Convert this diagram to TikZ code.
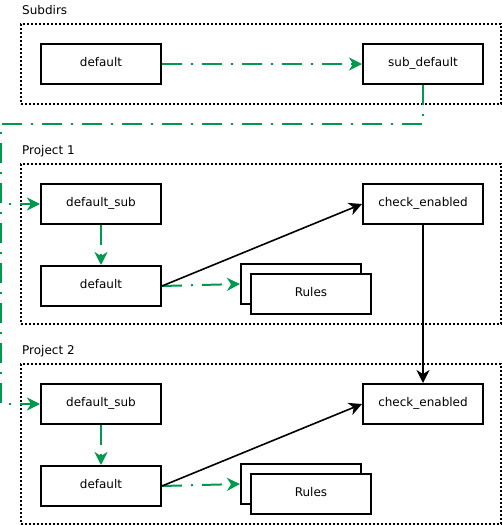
\documentclass[tikz,border=0pt]{standalone}
\usepackage{fontspec}
\setmainfont{DejaVu Sans}
\usetikzlibrary{arrows.meta,positioning}
\definecolor{sdGreen}{HTML}{00994D}
\newcommand{\txt}{\fontsize{12}{14}\selectfont}
\tikzset{
  box/.style={draw=black,line width=2pt,fill=white,minimum width=120pt,minimum height=40pt,
              inner sep=0pt,text height=9pt,text depth=3.5pt,font=\txt},
  grp/.style={draw=black,line width=2pt,dash pattern=on 2pt off 2pt,minimum width=480pt,inner sep=0pt},
  lbl/.style={font=\txt,inner sep=0pt,anchor=base west},
  garr/.style={draw=sdGreen,line width=2pt,dash pattern=on 20pt off 9pt on 2pt off 9pt,
               -{Stealth[length=13pt,width=13pt,inset=4pt,fill=sdGreen]}},
  karr/.style={draw=black,line width=1.6pt,-{Stealth[length=13pt,width=13pt,inset=4pt]}},
}

\begin{document}
\begin{tikzpicture}[x=1pt,y=-1pt]
  \useasboundingbox (0,0) rectangle (502,525);
  % groups
  \node[grp,minimum height=80pt] (gSub) at (261,64) {};
  \node[grp,minimum height=160pt] (gOne) at (261,244) {};
  \node[grp,minimum height=160pt] (gTwo) at (261,444) {};
  \node[lbl] (tSub) at (22,14) {Subdirs};
  \node[lbl] (tOne) at (22,154) {Project 1};
  \node[lbl] (tTwo) at (22,354) {Project 2};
  % subdirs
  \node[box] (sDef) at (101,64) {default};
  \node[box,right=200pt of sDef] (sSub) {sub\_default};
  % project 1
  \node[box] (aSub) at (101,204) {default\_sub};
  \node[box,below=40pt of aSub] (aDef) {default};
  \node[box,right=200pt of aSub] (aChk) {check\_enabled};
  \node[box] (aRulB) at (301,284) {};
  \node[box] (aRulF) at (311,294) {Rules};
  % project 2
  \node[box] (bSub) at (101,404) {default\_sub};
  \node[box,below=40pt of bSub] (bDef) {default};
  \node[box,right=200pt of bSub] (bChk) {check\_enabled};
  \node[box] (bRulB) at (301,484) {};
  \node[box] (bRulF) at (311,494) {Rules};
  % connectors
  \coordinate (rail) at (1,124);
  \draw[garr] (sDef) -- (sSub);
  \draw[garr] (sSub.south) |- (rail) |- (aSub.west);
  \draw[garr] (sSub.south) |- (rail) |- (bSub.west);
  \draw[garr] (aSub) -- (aDef);
  \draw[garr] (aDef.east) -- (aRulB.west);
  \draw[karr] (aDef.east) -- (aChk.west);
  \draw[karr] (aChk) -- (bChk);
  \draw[garr] (bSub) -- (bDef);
  \draw[garr] (bDef.east) -- (bRulB.west);
  \draw[karr] (bDef.east) -- (bChk.west);
\end{tikzpicture}
\end{document}
